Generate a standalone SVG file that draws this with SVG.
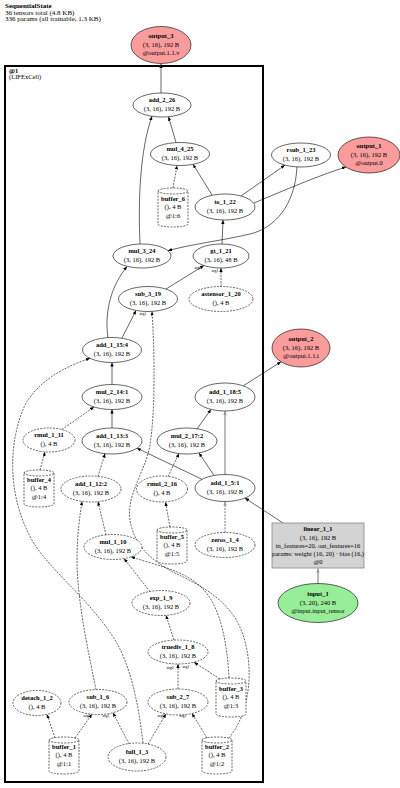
<svg xmlns="http://www.w3.org/2000/svg" width="400" height="788" viewBox="0 0 400 788">
<style>
.n{fill:#fff;stroke:#000;stroke-width:0.6}
.d{stroke-dasharray:2,1.2}
.red{fill:#fa9c9c}
.grn{fill:#98ee98}
.t{font-family:"Liberation Serif","Times New Roman",serif;font-size:6.5px;text-anchor:middle;fill:#000}
.b{font-weight:bold}
.l{font-family:"Liberation Serif","Times New Roman",serif;font-size:4px;text-anchor:middle;fill:#000}
.e{fill:none;stroke:#000;stroke-width:0.6;marker-end:url(#a)}
.g{fill:none;stroke:#aaa;stroke-width:1.6;marker-end:url(#ag)}
</style>
<defs>
<marker id="a" markerUnits="userSpaceOnUse" markerWidth="4" markerHeight="3.4" refX="4" refY="1.7" orient="auto"><path d="M0,0 L4,1.7 L0,3.4z" fill="#000"/></marker>
<marker id="ag" markerUnits="userSpaceOnUse" markerWidth="4" markerHeight="3.4" refX="4" refY="1.7" orient="auto"><path d="M0,0 L4,1.7 L0,3.4z" fill="#999"/></marker>
</defs>
<rect width="400" height="788" fill="#fff"/>
<g id="title">
<text x="5" y="8" class="t b" style="text-anchor:start;font-size:7px">SequentialState</text>
<text x="5" y="14.5" class="t" style="text-anchor:start;font-size:7px">36 tensors total (4.8 KB)</text>
<text x="5" y="21" class="t" style="text-anchor:start;font-size:7px">336 params (all trainable, 1.3 KB)</text>
</g>
<g id="cluster_1">
<rect x="5" y="66" width="258" height="716" fill="none" stroke="#000" stroke-width="2"/>
<text x="9" y="72.5" class="t b" style="text-anchor:start">@1</text>
<text x="9" y="78.5" class="t" style="text-anchor:start">(LIFExCell)</text>
</g>
<g id="connectors">
<path class="e" d="M161,93 L161,64"/>
<path class="e" d="M176,142.5 L168.5,116.7"/>
<path class="e" d="M140,244 C138,200 140,150 152,116.3"/>
<path class="e d" d="M173,188 L177,165.4"/>
<path class="e" d="M212,195 L193,164.3"/>
<path class="e" d="M241,196 L285,165.1"/>
<path class="e" d="M254,203 C285,190 320,175 346,167"/>
<path class="e" d="M297,167 C295,205 275,228 250,234 C220,241 192,244 168,250.7"/>
<path class="e" d="M222,244 L223,220"/>
<path class="e" d="M108,338 C104,310 112,285 127,266.5"/>
<path class="e" d="M166,289 L204,265.5"/>
<path class="e d" d="M221,286.5 L221,268"/>
<path class="e" d="M122,338 L136,310.5"/>
<path class="e d" d="M229,738 C250,712 255,668 242,632 C230,600 200,585 175,573 C150,560 134,545 130,520 C126,495 146,470 150,445 C155,412 155,360 152,311.5"/>
<path class="e" d="M112,384.5 L112,362.5"/>
<path class="e d" d="M143,743 C138,700 130,665 115,640 C90,600 55,575 35,545 C10,505 5,450 25,405 C40,378 70,365 90,358.3"/>
<path class="e" d="M112,428 L112,409.5"/>
<path class="e d" d="M62,429.5 L94,407"/>
<path class="e d" d="M40,470 L45,452"/>
<path class="e d" d="M98,476.5 L105,453.6"/>
<path class="e" d="M202,479.3 L137,448.2"/>
<path class="e" d="M214,475.5 L199,452.9"/>
<path class="e d" d="M168,476.5 L179,453.5"/>
<path class="e d" d="M170,527 L165.5,502"/>
<path class="e" d="M197,429 L211,409.4"/>
<path class="g" d="M225,474.5 L225,411"/>
<path class="e" d="M243,386 L281,361.8"/>
<path class="e" d="M283,523 L245,498.1"/>
<path class="g d" d="M225,532.5 L225,501.5"/>
<path class="g" d="M318,583.5 L318,568.5"/>
<path class="e d" d="M96,689.5 C88,650 77,600 77,560 C77,535 80,515 82,501.4"/>
<path class="e d" d="M106,535 L98,501.6"/>
<path class="e d" d="M150,591.5 L124,558.6"/>
<path class="e d" d="M229,678 C227,640 220,607 203,589 C185,570 155,565 131,556.8"/>
<path class="e d" d="M174,640 L166,615.3"/>
<path class="e d" d="M178,689 L178,664"/>
<path class="e d" d="M220,679 L194,662.2"/>
<path class="e d" d="M55,738 L47,714.4"/>
<path class="e d" d="M75,738 L92,714.2"/>
<path class="e d" d="M129,744 L113,712.7"/>
<path class="e d" d="M148,744 L166,713.9"/>
<path class="e d" d="M207,738 L192,713.5"/>
<text class="l" x="198" y="268.5">arg0</text>
<text class="l" x="215" y="271.5">arg1</text>
<text class="l" x="143" y="315">arg1</text>
<text class="l" x="170" y="668.5">arg0</text>
<text class="l" x="186" y="667.5">arg1</text>
<text class="l" x="87" y="716.5">arg0</text>
<text class="l" x="106" y="716.5">arg1</text>
<text class="l" x="161" y="716.5">arg0</text>
<text class="l" x="183" y="716.5">arg1</text>
</g>
<g id="output_3"><ellipse class="n red" cx="161" cy="45" rx="30" ry="18.5"/><text class="t b" x="161" y="38">output_3</text><text class="t" x="161" y="46.5">(3, 16), 192 B</text><text class="t" x="161" y="55">@output.1.1.v</text></g>
<g id="add_2_26"><ellipse class="n" cx="162" cy="105" rx="29" ry="12"/><text class="t b" x="162" y="102">add_2_26</text><text class="t" x="162" y="110.5">(3, 16), 192 B</text></g>
<g id="mul_4_25"><ellipse class="n" cx="180" cy="154" rx="29.5" ry="11.5"/><text class="t b" x="180" y="151">mul_4_25</text><text class="t" x="180" y="159.5">(3, 16), 192 B</text></g>
<g id="rsub_1_23"><ellipse class="n" cx="301" cy="155" rx="29.5" ry="12"/><text class="t b" x="301" y="152">rsub_1_23</text><text class="t" x="301" y="160.5">(3, 16), 192 B</text></g>
<g id="output_1"><ellipse class="n red" cx="369" cy="155" rx="31" ry="18"/><text class="t b" x="369" y="148">output_1</text><text class="t" x="369" y="156.5">(3, 16), 192 B</text><text class="t" x="369" y="165">@output.0</text></g>
<g id="buffer_6"><path class="n d" d="M158,191 A15,3 0 0 1 188,191 A15,3 0 0 1 158,191 V224 A15,3 0 0 0 188,224 V191"/><text class="t b" x="173" y="200.5">buffer_6</text><text class="t" x="173" y="209">(), 4 B</text><text class="t" x="173" y="217.5">@1:6</text></g>
<g id="to_1_22"><ellipse class="n" cx="225" cy="207" rx="30" ry="13"/><text class="t b" x="225" y="204">to_1_22</text><text class="t" x="225" y="212.5">(3, 16), 192 B</text></g>
<g id="mul_3_24"><ellipse class="n" cx="142" cy="256" rx="29" ry="12"/><text class="t b" x="142" y="253">mul_3_24</text><text class="t" x="142" y="261.5">(3, 16), 192 B</text></g>
<g id="gt_1_21"><ellipse class="n" cx="221" cy="256" rx="28" ry="12"/><text class="t b" x="221" y="253">gt_1_21</text><text class="t" x="221" y="261.5">(3, 16), 48 B</text></g>
<g id="sub_3_19"><ellipse class="n" cx="148" cy="299" rx="29.5" ry="12.5"/><text class="t b" x="148" y="296">sub_3_19</text><text class="t" x="148" y="304.5">(3, 16), 192 B</text></g>
<g id="astensor_1_20"><ellipse class="n d" cx="221" cy="299" rx="32" ry="12.5"/><text class="t b" x="221" y="296">astensor_1_20</text><text class="t" x="221" y="304.5">(), 4 B</text></g>
<g id="add_1_15_4"><ellipse class="n" cx="112" cy="350" rx="29.5" ry="12.5"/><text class="t b" x="112" y="347">add_1_15:4</text><text class="t" x="112" y="355.5">(3, 16), 192 B</text></g>
<g id="mul_2_14_1"><ellipse class="n" cx="112" cy="397" rx="30" ry="12.5"/><text class="t b" x="112" y="394">mul_2_14:1</text><text class="t" x="112" y="402.5">(3, 16), 192 B</text></g>
<g id="output_2"><ellipse class="n red" cx="301" cy="348" rx="29" ry="19"/><text class="t b" x="301" y="341">output_2</text><text class="t" x="301" y="349.5">(3, 16), 192 B</text><text class="t" x="301" y="358">@output.1.1.i</text></g>
<g id="add_1_18_5"><ellipse class="n" cx="225" cy="397" rx="30" ry="14"/><text class="t b" x="225" y="394">add_1_18:5</text><text class="t" x="225" y="402.5">(3, 16), 192 B</text></g>
<g id="rmul_1_11"><ellipse class="n d" cx="49" cy="440" rx="26" ry="12"/><text class="t b" x="49" y="437">rmul_1_11</text><text class="t" x="49" y="445.5">(), 4 B</text></g>
<g id="add_1_13_3"><ellipse class="n" cx="112" cy="441" rx="30" ry="13"/><text class="t b" x="112" y="438">add_1_13:3</text><text class="t" x="112" y="446.5">(3, 16), 192 B</text></g>
<g id="mul_2_17_2"><ellipse class="n" cx="187" cy="441" rx="30" ry="13"/><text class="t b" x="187" y="438">mul_2_17:2</text><text class="t" x="187" y="446.5">(3, 16), 192 B</text></g>
<g id="buffer_4"><path class="n d" d="M24,473 A15,3 0 0 1 54,473 A15,3 0 0 1 24,473 V504 A15,3 0 0 0 54,504 V473"/><text class="t b" x="39" y="481.5">buffer_4</text><text class="t" x="39" y="490">(), 4 B</text><text class="t" x="39" y="498.5">@1:4</text></g>
<g id="add_1_12_2"><ellipse class="n d" cx="91" cy="489" rx="30" ry="13"/><text class="t b" x="91" y="486">add_1_12:2</text><text class="t" x="91" y="494.5">(3, 16), 192 B</text></g>
<g id="rmul_2_16"><ellipse class="n d" cx="162" cy="489" rx="25.5" ry="13"/><text class="t b" x="162" y="486">rmul_2_16</text><text class="t" x="162" y="494.5">(), 4 B</text></g>
<g id="add_1_5_1"><ellipse class="n" cx="225" cy="488" rx="30" ry="13.5"/><text class="t b" x="225" y="485">add_1_5:1</text><text class="t" x="225" y="493.5">(3, 16), 192 B</text></g>
<g id="linear_1_1"><rect x="272" y="523" width="92" height="45" fill="#d3d3d3" stroke="#888" stroke-width="0.8"/><text class="t b" x="318" y="531">linear_1_1</text><text class="t" x="318" y="539.5">(3, 16), 192 B</text><text class="t" x="318" y="547.5">in_features=20, out_features=16</text><text class="t" x="318" y="555.5">params: weight (16, 20) · bias (16,)</text><text class="t" x="318" y="563.5">@0</text></g>
<g id="buffer_5"><path class="n d" d="M157,530 A15,3 0 0 1 187,530 A15,3 0 0 1 157,530 V561 A15,3 0 0 0 187,561 V530"/><text class="t b" x="172" y="538.5">buffer_5</text><text class="t" x="172" y="547">(), 4 B</text><text class="t" x="172" y="555.5">@1:5</text></g>
<g id="mul_1_10"><ellipse class="n d" cx="113" cy="547" rx="29" ry="12.5"/><text class="t b" x="113" y="544">mul_1_10</text><text class="t" x="113" y="552.5">(3, 16), 192 B</text></g>
<g id="zeros_1_4"><ellipse class="n d" cx="225" cy="545" rx="30" ry="12.5"/><text class="t b" x="225" y="542">zeros_1_4</text><text class="t" x="225" y="550.5">(3, 16), 192 B</text></g>
<g id="input_1"><ellipse class="n grn" cx="318" cy="603" rx="40" ry="19.5"/><text class="t b" x="318" y="596">input_1</text><text class="t" x="318" y="604.5">(3, 20), 240 B</text><text class="t" x="318" y="613">@input.input_tensor</text></g>
<g id="exp_1_9"><ellipse class="n d" cx="161" cy="603" rx="29" ry="12.5"/><text class="t b" x="161" y="600">exp_1_9</text><text class="t" x="161" y="608.5">(3, 16), 192 B</text></g>
<g id="truediv_1_8"><ellipse class="n d" cx="178" cy="652" rx="30" ry="12"/><text class="t b" x="178" y="649">truediv_1_8</text><text class="t" x="178" y="657.5">(3, 16), 192 B</text></g>
<g id="buffer_3"><path class="n d" d="M216,681 A15,3 0 0 1 246,681 A15,3 0 0 1 216,681 V714 A15,3 0 0 0 246,714 V681"/><text class="t b" x="231" y="690.5">buffer_3</text><text class="t" x="231" y="699">(), 4 B</text><text class="t" x="231" y="707.5">@1:3</text></g>
<g id="detach_1_2"><ellipse class="n d" cx="37" cy="703" rx="24" ry="12.5"/><text class="t b" x="37" y="700">detach_1_2</text><text class="t" x="37" y="708.5">(), 4 B</text></g>
<g id="sub_1_6"><ellipse class="n d" cx="98" cy="702" rx="29" ry="12.5"/><text class="t b" x="98" y="699">sub_1_6</text><text class="t" x="98" y="707.5">(3, 16), 192 B</text></g>
<g id="sub_2_7"><ellipse class="n d" cx="178" cy="702" rx="30" ry="13"/><text class="t b" x="178" y="699">sub_2_7</text><text class="t" x="178" y="707.5">(3, 16), 192 B</text></g>
<g id="buffer_1"><path class="n d" d="M49,740 A15,3 0 0 1 79,740 A15,3 0 0 1 49,740 V771 A15,3 0 0 0 79,771 V740"/><text class="t b" x="64" y="748.5">buffer_1</text><text class="t" x="64" y="757">(), 4 B</text><text class="t" x="64" y="765.5">@1:1</text></g>
<g id="full_1_3"><ellipse class="n d" cx="137" cy="757" rx="29" ry="14"/><text class="t b" x="137" y="754">full_1_3</text><text class="t" x="137" y="762.5">(3, 16), 192 B</text></g>
<g id="buffer_2"><path class="n d" d="M202,740 A15,3 0 0 1 232,740 A15,3 0 0 1 202,740 V771 A15,3 0 0 0 232,771 V740"/><text class="t b" x="217" y="748.5">buffer_2</text><text class="t" x="217" y="757">(), 4 B</text><text class="t" x="217" y="765.5">@1:2</text></g>
</svg>
